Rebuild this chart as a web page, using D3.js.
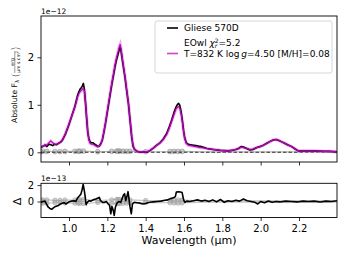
<!DOCTYPE html>
<html><head><meta charset="utf-8">
<script src="https://cdn.jsdelivr.net/npm/d3@7"></script>
<style>
html,body{margin:0;padding:0;background:#fff;}
text{font-family:"DejaVu Sans",sans-serif;}
</style></head>
<body><svg id="c" width="345" height="259"></svg>
<script>
// ---- data (flux in 1e-12, residual in 1e-13) ----
const wavelength = [0.854,0.865,0.875,0.885,0.895,0.905,0.915,0.925,0.935,0.945,0.955,0.965,0.979,0.996,1.014,1.031,1.045,1.052,1.058,1.064,1.070,1.075,1.080,1.086,1.092,1.098,1.104,1.110,1.118,1.126,1.134,1.142,1.150,1.158,1.166,1.174,1.182,1.190,1.198,1.205,1.214,1.223,1.232,1.240,1.248,1.257,1.263,1.267,1.272,1.280,1.292,1.301,1.310,1.318,1.327,1.334,1.342,1.352,1.362,1.375,1.390,1.405,1.420,1.440,1.458,1.475,1.492,1.510,1.523,1.536,1.548,1.558,1.566,1.572,1.578,1.585,1.592,1.598,1.604,1.612,1.622,1.635,1.649,1.662,1.675,1.690,1.705,1.719,1.735,1.752,1.770,1.790,1.810,1.830,1.850,1.870,1.885,1.898,1.910,1.927,1.944,1.960,1.980,1.997,2.015,2.032,2.050,2.065,2.080,2.095,2.110,2.125,2.140,2.162,2.180,2.196,2.215,2.240,2.270,2.300,2.330,2.360,2.398];
const observed = [0.10,0.13,0.15,0.12,0.17,0.16,0.14,0.17,0.16,0.19,0.21,0.25,0.36,0.54,0.76,0.97,1.20,1.28,1.33,1.36,1.40,1.45,1.33,1.05,0.72,0.42,0.28,0.22,0.20,0.20,0.17,0.15,0.12,0.13,0.18,0.26,0.42,0.60,0.80,0.97,1.20,1.42,1.62,1.80,1.95,2.08,2.18,2.22,2.12,1.90,1.58,1.30,1.03,0.70,0.33,0.13,0.06,0.03,0.01,0.00,0.01,0.00,0.03,0.09,0.15,0.20,0.28,0.40,0.53,0.68,0.84,0.95,1.01,1.03,0.99,0.85,0.65,0.45,0.30,0.20,0.17,0.16,0.15,0.14,0.13,0.12,0.10,0.08,0.07,0.06,0.05,0.04,0.035,0.03,0.04,0.06,0.08,0.12,0.11,0.08,0.05,0.06,0.10,0.12,0.15,0.19,0.23,0.26,0.27,0.25,0.22,0.19,0.16,0.12,0.07,0.03,0.03,0.03,0.03,0.025,0.02,0.02,0.01];
const model = [0.11,0.13,0.16,0.15,0.20,0.24,0.20,0.17,0.17,0.19,0.21,0.26,0.37,0.55,0.76,0.96,1.17,1.24,1.28,1.30,1.33,1.35,1.30,1.06,0.73,0.43,0.26,0.19,0.17,0.17,0.15,0.13,0.12,0.13,0.18,0.27,0.43,0.61,0.81,0.99,1.22,1.45,1.65,1.84,1.99,2.13,2.23,2.27,2.16,1.93,1.60,1.31,1.03,0.70,0.34,0.14,0.06,0.03,0.01,0.01,0.01,0.01,0.03,0.09,0.15,0.20,0.27,0.38,0.51,0.66,0.80,0.91,0.95,0.96,0.93,0.82,0.63,0.44,0.29,0.19,0.15,0.14,0.13,0.12,0.11,0.10,0.09,0.08,0.07,0.06,0.05,0.04,0.035,0.03,0.04,0.06,0.08,0.11,0.10,0.08,0.06,0.07,0.10,0.12,0.15,0.19,0.23,0.26,0.27,0.25,0.22,0.19,0.16,0.12,0.07,0.03,0.03,0.03,0.03,0.025,0.02,0.02,0.01];
const residWavelength = [0.854,0.865,0.875,0.885,0.892,0.900,0.910,0.920,0.930,0.944,0.955,0.965,0.975,0.985,0.996,1.005,1.014,1.025,1.035,1.045,1.055,1.062,1.068,1.074,1.080,1.085,1.089,1.095,1.105,1.115,1.125,1.140,1.158,1.165,1.175,1.185,1.195,1.205,1.212,1.218,1.224,1.230,1.236,1.242,1.250,1.260,1.270,1.278,1.284,1.290,1.296,1.302,1.308,1.312,1.318,1.325,1.331,1.340,1.355,1.370,1.385,1.400,1.420,1.440,1.460,1.480,1.500,1.515,1.530,1.545,1.555,1.560,1.570,1.582,1.590,1.598,1.605,1.615,1.630,1.650,1.670,1.690,1.710,1.730,1.750,1.770,1.790,1.810,1.830,1.850,1.870,1.890,1.910,1.930,1.950,1.970,1.985,2.000,2.020,2.040,2.060,2.080,2.100,2.130,2.160,2.190,2.220,2.250,2.280,2.310,2.340,2.370,2.398];
const residual = [-0.1,0.0,0.05,-0.4,-0.7,-0.85,-0.95,-0.75,-0.6,-0.5,-0.3,-0.2,-0.15,-0.3,-0.1,0.0,0.05,0.1,0.0,0.45,0.7,0.9,1.4,2.1,1.3,0.5,-0.4,-0.1,0.1,0.05,0.2,0.3,0.5,0.1,-0.1,-0.1,0.0,-0.3,-0.5,-1.5,-0.6,-1.0,-1.7,-0.7,-0.2,0.0,-0.1,0.4,0.8,0.95,0.1,0.6,1.2,0.5,-0.6,-1.5,-0.3,-0.1,-0.15,-0.2,-0.3,-0.25,-0.1,-0.05,0.0,0.05,0.15,0.2,0.35,0.45,0.6,1.15,1.2,1.15,1.1,0.2,-0.1,0.05,0.0,0.1,0.2,0.05,0.15,0.0,0.2,-0.05,0.25,-0.1,0.1,0.0,0.15,0.05,0.3,0.1,0.0,-0.1,-0.3,0.0,-0.15,0.05,-0.1,0.0,-0.05,0.05,0.0,-0.05,0.05,0.0,0.05,-0.05,0.05,0.0,0.1];
const errWavelength = [0.854,0.863,0.884,0.927,0.953,0.979,1.031,1.049,1.057,1.075,1.150,1.223,1.249,1.257,1.266,1.283,1.301,1.318,1.400,1.527,1.548,1.569,1.590,1.700,1.900,2.100,2.300,2.398];
const errFlux = [0.015,0.02,0.02,0.015,0.015,0.018,0.02,0.022,0.022,0.025,0.012,0.02,0.025,0.025,0.025,0.022,0.02,0.02,0.012,0.015,0.018,0.02,0.018,0.008,0.008,0.008,0.008,0.008];
const xTicks = [1.0,1.2,1.4,1.6,1.8,2.0,2.2];
const yTicks = [0,1,2];
const rTicks = [0,2];
const legendLabels = ["Gliese 570D","EOwl","T=832 K log","=4.50 [M/H]=0.08"];

// ---- layout ----
const svg = d3.select("#c");
const L = 41, R = 337, T1 = 16, B1 = 162, T2 = 183.3, B2 = 217.5;
const x = d3.scaleLinear().domain([0.8539, 2.3983]).range([L, R]);
const y = d3.scaleLinear().domain([-0.204, 2.869]).range([B1, T1]);
const yr = d3.scaleLinear().domain([-1.95, 2.22]).range([B2, T2]);

const defs = svg.append("defs");
defs.append("clipPath").attr("id","c1").append("rect").attr("x",L).attr("y",T1).attr("width",R-L).attr("height",B1-T1);
defs.append("clipPath").attr("id","c2").append("rect").attr("x",L).attr("y",T2).attr("width",R-L).attr("height",B2-T2);

const obs = wavelength.map((w,i)=>({w, v:observed[i]}));
const mod = wavelength.map((w,i)=>({w, v:model[i]}));
const res = residWavelength.map((w,i)=>({w, v:residual[i]}));
const err = errWavelength.map((w,i)=>({w, v:errFlux[i]}));

const g1 = svg.append("g").attr("clip-path","url(#c1)");
const line1 = d3.line().x(d=>x(d.w)).y(d=>y(d.v));
// error (grey) near zero
g1.append("path").datum(err).attr("d",line1).attr("fill","none").attr("stroke","#888").attr("stroke-opacity",0.6).attr("stroke-width",1.2);
g1.selectAll("circle.e").data(err.filter(d=>d.v>=0.012)).join("circle").attr("class","e")
  .attr("cx",d=>x(d.w)).attr("cy",d=>y(d.v)).attr("r",2.4)
  .attr("fill","#aaa").attr("fill-opacity",0.5).attr("stroke","#888").attr("stroke-opacity",0.7).attr("stroke-width",0.8);
g1.append("line").attr("x1",L).attr("x2",R).attr("y1",y(0)).attr("y2",y(0))
  .attr("stroke","#333").attr("stroke-width",1.1).attr("stroke-dasharray","3.5,2");
// model envelope & observed & model
g1.append("path").datum(mod).attr("d",line1).attr("fill","none").attr("stroke","#e08ee0").attr("stroke-opacity",0.7).attr("stroke-width",3.2);
g1.append("path").datum(obs).attr("d",line1).attr("fill","none").attr("stroke","#000").attr("stroke-width",1.6).attr("stroke-linejoin","round");
g1.append("path").datum(mod).attr("d",line1).attr("fill","none").attr("stroke","#bf00bf").attr("stroke-width",1.2).attr("stroke-linejoin","round");

// residual panel
const g2 = svg.append("g").attr("clip-path","url(#c2)");
const line2 = d3.line().x(d=>x(d.w)).y(d=>yr(d.v));
[1,-1].forEach(s=>{
  const e2 = err.map(d=>({w:d.w, v:s*d.v*10}));
  g2.append("path").datum(e2).attr("d",line2).attr("fill","none").attr("stroke","#999").attr("stroke-opacity",0.6).attr("stroke-width",1.2);
  g2.selectAll("circle.s"+(s>0?"p":"n")).data(e2.filter(d=>Math.abs(d.v)>=0.12)).join("circle").attr("class","s"+(s>0?"p":"n"))
    .attr("cx",d=>x(d.w)).attr("cy",d=>yr(d.v)).attr("r",2.2)
    .attr("fill","#aaa").attr("fill-opacity",0.5).attr("stroke","#888").attr("stroke-opacity",0.6).attr("stroke-width",0.7);
});
g2.append("path").datum(res).attr("d",line2).attr("fill","none").attr("stroke","#000").attr("stroke-width",1.6).attr("stroke-linejoin","round");

// axes
function frame(t,b){
  svg.append("rect").attr("x",L).attr("y",t).attr("width",R-L).attr("height",b-t)
    .attr("fill","none").attr("stroke","#000").attr("stroke-width",0.9);
}
frame(T1,B1); frame(T2,B2);

const ax1 = svg.append("g").attr("transform",`translate(0,${B1})`)
  .call(d3.axisBottom(x).tickValues(xTicks).tickSize(3.5).tickFormat(""));
const ax2 = svg.append("g").attr("transform",`translate(0,${B2})`)
  .call(d3.axisBottom(x).tickValues(xTicks).tickSize(3.5).tickPadding(3.5).tickFormat(d3.format(".1f")));
const ay1 = svg.append("g").attr("transform",`translate(${L},0)`)
  .call(d3.axisLeft(y).tickValues(yTicks).tickSize(3.5).tickPadding(3.5).tickFormat(d3.format("d")));
const ay2 = svg.append("g").attr("transform",`translate(${L},0)`)
  .call(d3.axisLeft(yr).tickValues(rTicks).tickSize(3.5).tickPadding(3.5).tickFormat(d3.format("d")));
[ax1,ax2,ay1,ay2].forEach(a=>{
  a.select(".domain").remove();
  a.selectAll("line").attr("stroke","#000").attr("stroke-width",0.8);
  a.selectAll("text").attr("font-size","10px").attr("font-family","DejaVu Sans").attr("fill","#000");
});

// offset texts
svg.append("text").attr("x",L).attr("y",14).attr("font-size","7.5px").text("1e\u221212");
svg.append("text").attr("x",L).attr("y",180.5).attr("font-size","7.5px").text("1e\u221213");

// x label
svg.append("text").attr("x",(L+R)/2).attr("y",244).attr("text-anchor","middle").attr("font-size","11px").text("Wavelength (\u00b5m)");

// delta label
svg.append("text").attr("transform",`translate(21,${yr(0)}) rotate(-90)`).attr("text-anchor","middle").attr("font-size","11px").text("\u0394");

// y label (rotated)
const yl = svg.append("g").attr("transform","translate(17,123) rotate(-90)");
let cx = 0;
const t1 = yl.append("text").attr("x",0).attr("y",0).attr("font-size","7.6px").text("Absolute F");
cx += t1.node().getComputedTextLength();
const t2 = yl.append("text").attr("x",cx).attr("y",2).attr("font-size","5.5px").text("\u03bb");
cx += t2.node().getComputedTextLength() + 2.5;
const p1 = yl.append("text").attr("x",cx).attr("y",1.5).attr("font-size","10px").attr("font-weight","200").text("(");
cx += p1.node().getComputedTextLength() + 0.5;
const den = yl.append("text").attr("y",3).attr("font-size","4.6px").text("\u00b5m s cm");
const dw = den.node().getComputedTextLength();
const sq = yl.append("text").attr("y",1).attr("font-size","3.4px").text("2");
const sw = sq.node().getComputedTextLength();
const fw = dw + sw;
den.attr("x",cx); sq.attr("x",cx+dw);
yl.append("line").attr("x1",cx).attr("x2",cx+fw).attr("y1",-2.2).attr("y2",-2.2).attr("stroke","#000").attr("stroke-width",0.4);
yl.append("text").attr("x",cx+fw/2).attr("y",-3.4).attr("text-anchor","middle").attr("font-size","4.6px").text("erg");
cx += fw + 0.5;
yl.append("text").attr("x",cx).attr("y",1.5).attr("font-size","10px").attr("font-weight","200").text(")");

// legend
const lg = svg.append("g");
lg.append("rect").attr("x",155).attr("y",21).attr("width",177).attr("height",52).attr("rx",2)
  .attr("fill","#fff").attr("fill-opacity",0.8).attr("stroke","#ccc").attr("stroke-width",0.8);
lg.append("line").attr("x1",167).attr("x2",178).attr("y1",28).attr("y2",28).attr("stroke","#000").attr("stroke-width",1.6);
lg.append("line").attr("x1",167).attr("x2",178).attr("y1",53.5).attr("y2",53.5).attr("stroke","#bf00bf").attr("stroke-width",1.2);
lg.append("line").attr("x1",167).attr("x2",178).attr("y1",53.5).attr("y2",53.5).attr("stroke","#e08ee0").attr("stroke-opacity",0.5).attr("stroke-width",2.5);
lg.append("text").attr("x",184).attr("y",31.2).attr("font-size","9px").text(legendLabels[0]);
const e = lg.append("text").attr("x",184).attr("y",46).attr("font-size","9px");
e.append("tspan").text(legendLabels[1] + " ");
e.append("tspan").attr("font-style","italic").text("\u03c7");
e.append("tspan").attr("font-size","6px").attr("dy",-3.3).text("2");
e.append("tspan").attr("font-size","6px").attr("font-style","italic").attr("dx",-3.8).attr("dy",5.5).text("r");
e.append("tspan").attr("dx",1.2).attr("dy",-2.2).text("=5.2");
const m = lg.append("text").attr("x",184).attr("y",56.8).attr("font-size","9px");
m.append("tspan").text(legendLabels[2] + "\u2009");
m.append("tspan").attr("font-style","italic").text("g");
m.append("tspan").text(legendLabels[3]);
</script></body></html>
